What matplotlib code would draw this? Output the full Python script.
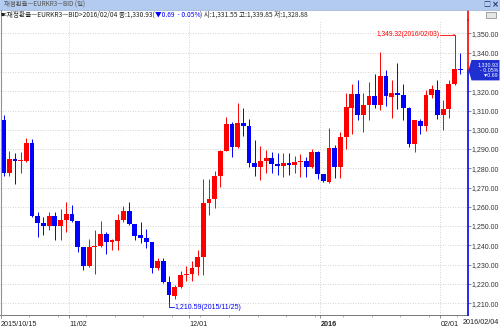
import matplotlib
matplotlib.use('Agg')
import matplotlib.pyplot as plt
from matplotlib.patches import Rectangle, Polygon
from matplotlib.lines import Line2D
import numpy as np

# ---- data ----
opens = [1305.1, 1277.7, 1284.6, 1283.9, 1283.9, 1293.3, 1255.4, 1251.6, 1250.0, 1255.4,
         1250.0, 1253.3, 1256.4, 1252.6, 1239.0, 1229.0, 1239.0, 1239.4, 1245.7, 1241.7,
         1242.2, 1253.0, 1257.8, 1250.9, 1245.1, 1243.9, 1241.7, 1228.3, 1231.7, 1220.8,
         1213.8, 1218.2, 1224.4, 1225.3, 1228.6, 1233.8, 1262.2, 1264.0, 1276.1, 1289.1,
         1303.0, 1290.9, 1303.7, 1302.2, 1282.9, 1280.4, 1283.9, 1285.3, 1282.2, 1281.3,
         1282.5, 1281.8, 1283.0, 1283.9, 1280.4, 1288.6, 1277.0, 1273.0, 1290.4, 1280.4,
         1296.4, 1311.5, 1318.8, 1307.8, 1312.7, 1317.4, 1312.7, 1327.8, 1317.0, 1319.1,
         1317.9, 1311.5, 1292.7, 1304.4, 1301.7, 1317.9, 1320.8, 1307.8, 1310.9, 1324.0,
         1331.55]
highs = [1307.7, 1289.1, 1287.7, 1288.6, 1295.6, 1295.0, 1257.3, 1254.7, 1257.3, 1257.3,
         1259.0, 1262.6, 1260.9, 1252.8, 1239.2, 1243.4, 1247.7, 1252.6, 1246.9, 1243.4,
         1256.1, 1260.4, 1262.7, 1251.1, 1252.3, 1248.3, 1241.9, 1233.5, 1233.5, 1223.9,
         1219.6, 1226.5, 1229.1, 1231.7, 1237.3, 1274.3, 1274.3, 1278.7, 1289.3, 1306.5,
         1303.9, 1313.7, 1311.1, 1305.4, 1294.7, 1291.6, 1289.5, 1288.6, 1288.1, 1288.1,
         1288.1, 1286.3, 1287.4, 1286.0, 1289.8, 1289.1, 1277.2, 1300.8, 1292.1, 1299.0,
         1319.0, 1324.0, 1325.7, 1319.1, 1324.8, 1329.2, 1340.5, 1330.9, 1325.7, 1334.7,
         1324.0, 1311.7, 1304.9, 1305.7, 1320.5, 1323.1, 1325.7, 1315.3, 1325.7, 1349.32,
         1339.85]
lows = [1275.9, 1275.9, 1271.7, 1277.3, 1283.5, 1254.8, 1244.3, 1245.1, 1247.7, 1242.9,
        1242.9, 1246.9, 1252.1, 1236.4, 1227.2, 1228.8, 1225.1, 1239.2, 1235.6, 1237.7,
        1237.8, 1252.0, 1250.5, 1243.0, 1241.3, 1238.7, 1225.7, 1227.4, 1220.4, 1210.59,
        1212.3, 1217.8, 1221.3, 1221.3, 1224.4, 1224.8, 1255.7, 1259.6, 1270.3, 1288.9,
        1285.7, 1290.5, 1297.0, 1280.6, 1276.1, 1273.8, 1277.3, 1277.3, 1276.4, 1275.6,
        1276.4, 1277.3, 1275.6, 1275.6, 1280.0, 1274.3, 1273.0, 1272.5, 1274.7, 1274.7,
        1289.8, 1297.9, 1304.9, 1298.8, 1304.9, 1311.5, 1310.1, 1312.2, 1306.3, 1310.9,
        1304.9, 1291.3, 1288.4, 1297.9, 1299.6, 1316.7, 1305.7, 1300.0, 1306.3, 1323.0,
        1328.88]
closes = [1277.7, 1284.6, 1283.9, 1284.3, 1293.3, 1255.0, 1251.6, 1250.0, 1255.4, 1250.0,
          1253.3, 1256.4, 1252.6, 1239.0, 1229.0, 1239.0, 1239.7, 1245.7, 1241.7, 1242.5,
          1253.0, 1257.8, 1250.9, 1244.8, 1243.9, 1241.7, 1228.3, 1231.7, 1220.8, 1214.3,
          1218.2, 1224.4, 1225.3, 1228.3, 1233.8, 1262.2, 1264.0, 1276.1, 1289.1, 1303.0,
          1290.9, 1303.7, 1302.2, 1282.9, 1280.4, 1283.9, 1285.3, 1282.2, 1281.3, 1282.5,
          1281.8, 1283.0, 1283.9, 1280.4, 1288.6, 1277.0, 1273.5, 1290.4, 1280.4, 1296.4,
          1311.7, 1318.8, 1307.8, 1312.7, 1317.4, 1312.7, 1327.8, 1317.4, 1319.1, 1317.9,
          1311.5, 1292.7, 1304.9, 1301.7, 1317.9, 1321.4, 1307.8, 1310.9, 1324.0, 1331.62,
          1330.93]

date_labels = ['2015/10/15', '11/02', '12/01', '2016', '02/01']
date_index = [0, 12, 33, 56, 77]
last_label = '2016/02/04'
y_ticks = list(range(1210, 1351, 10))
high_idx, high_val, high_note = 79, 1349.32, '1,349.32(2016/02/03)'
low_idx, low_val, low_note = 29, 1210.59, '1,210.59(2015/11/25)'
title = '재정환율—EURKR3—BID (일)'
info_a = '<재정환율—EURKR3—BID>2016/02/04 종:1,330.93('
info_b = '▼0.69  - 0.05%'
info_c = ') 시:1,331.55 고:1,339.85 저:1,328.88'
tag_lines = ['1,330.93', '- 0.05%', '▼0.69']

RED = '#ff0000'
BLUE = '#0000ff'
KR = ['Noto Sans CJK KR', 'DejaVu Sans']
LAT = ['Liberation Sans', 'DejaVu Sans']

W, H = 500, 327
fig = plt.figure(figsize=(5, 3.27), dpi=100)
fig.patch.set_facecolor('white')

def fx(px):
    return px / W

def fy(py):
    return 1 - py / H

ax = fig.add_axes([0, fy(315), fx(467.5), fy(20) - fy(315)])
ax.set_facecolor('white')

n = len(opens)
x = np.arange(n)
o = np.array(opens)
c = np.array(closes)
cols = [RED if cc >= oo else BLUE for oo, cc in zip(opens, closes)]
bottoms = np.minimum(o, c)
heights = np.maximum(np.abs(c - o), 0.5)
ax.vlines(x, lows, highs, colors=cols, lw=0.7, zorder=3)
ax.bar(x, heights, bottom=bottoms, width=0.84, color=cols, lw=0, zorder=4)

ax.set_xlim(-0.613, 81.26)
ax.set_ylim(1203.8, 1357.0)

last = closes[-1]

# grid
ax.set_yticks(y_ticks)
ax.yaxis.set_major_formatter(matplotlib.ticker.FuncFormatter(
    lambda v, p: '' if abs(v - last) < 5 else f'{v:,.2f}'))
ax.grid(axis='y', color='#c4c4c4', lw=0.6, linestyle=(0, (1, 2)), zorder=0)
for idx in date_index[1:]:
    ax.axvline(idx - 0.5, color='#c4c4c4', lw=0.6, linestyle=(0, (1, 2)), zorder=0)

ax.yaxis.tick_right()
ax.tick_params(axis='y', length=2, pad=1.2, labelsize=5.0, labelcolor='#333333', color='#777777', width=0.6)
for t in ax.get_yticklabels():
    t.set_fontfamily(LAT)

ax.set_xticks([i - 0.5 for i in date_index])
ax.set_xticklabels(date_labels)
ax.tick_params(axis='x', length=2, pad=2, labelsize=5.2, labelcolor='#222222', color='#777777', width=0.6)
ax.set_xticks(np.arange(4.5, n, 5), minor=True)
ax.tick_params(axis='x', which='minor', length=1.5, color='#999999', width=0.5)
for i, t in enumerate(ax.get_xticklabels()):
    t.set_ha('left')
    t.set_fontfamily(LAT)
    if date_labels[i] == '2016':
        t.set_fontweight('bold')
fig.text(fx(499.5), fy(318.5), last_label, ha='right', va='top',
         fontsize=5.2, color='#222222', family=LAT)

for s in ['top', 'left', 'right']:
    ax.spines[s].set_visible(False)
ax.spines['bottom'].set_color('#777777')
ax.spines['bottom'].set_linewidth(0.7)

# right axis line: red above the last close, blue below
ytr = ax.get_yaxis_transform()
ax.plot([1, 1], [1203.8, last], color=BLUE, lw=1.2, transform=ytr, clip_on=False, zorder=5)
ax.plot([1, 1], [last, 1357.0], color=RED, lw=1.2, transform=ytr, clip_on=False, zorder=5)
fig.add_artist(Line2D([fx(468), fx(468)], [fy(20), fy(11)], color=RED, lw=1.2))

# high / low notes
ax.text(high_idx - 2.6, high_val, high_note, ha='right', va='center', fontsize=4.8,
        color=RED, family=LAT, zorder=6)
ax.plot([high_idx - 2.5, high_idx], [high_val, high_val], color=RED, lw=0.6, zorder=6)
ax.plot([high_idx - 0.3, high_idx], [high_val - 0.2, high_val], color=RED, lw=0.6, zorder=6)

low_y = low_val - 2.8
ax.plot([low_idx, low_idx, low_idx + 0.8], [low_val, low_y, low_y], color=BLUE, lw=0.6,
        zorder=6, clip_on=False)
ax.text(low_idx + 0.9, low_y, low_note, ha='left', va='center', fontsize=5.0, color=BLUE,
        family=LAT, zorder=6)

# price tag
disp = ax.transData.transform((0, last))
ty = disp[1] / fig.bbox.height
half = 10.2 / H
tag = Polygon([[fx(468.5), ty], [fx(471.5), ty + half], [fx(499.5), ty + half],
               [fx(499.5), ty - half], [fx(471.5), ty - half]],
              closed=True, transform=fig.transFigure, facecolor='#1f2fd0', edgecolor='none')
fig.add_artist(tag)
fig.text(fx(498.5), ty, '\n'.join(tag_lines), ha='right', va='center', fontsize=3.8,
         color='white', family=LAT, linespacing=1.05, multialignment='right')

# title bar
fig.add_artist(Rectangle((0, fy(9.5)), 1, 9.5 / H, transform=fig.transFigure,
                         facecolor='#b3cbee', edgecolor='none'))
fig.add_artist(Line2D([0, 1], [fy(9.5), fy(9.5)], color='#8aa6d6', lw=0.5))
fig.text(fx(4), fy(4.8), title, ha='left', va='center', fontsize=4.6, color='#505050', family=KR)
fig.text(fx(483), fy(4.8), '□', ha='left', va='center', fontsize=5, color='#203070', family=KR)
fig.text(fx(492), fy(4.8), '×', ha='left', va='center', fontsize=6, color='#203070',
         family=['DejaVu Sans'], fontweight='bold')

# info line
fig.text(fx(0.5), fy(14.5), '■', ha='left', va='center', fontsize=3, color='#222222', family=['DejaVu Sans'])
ta = fig.text(fx(3), fy(14.5), info_a, ha='left', va='center', fontsize=4.8, color='#222222', family=KR)
fig.canvas.draw()
bb = ta.get_window_extent()
tb = fig.text(bb.x1 / fig.bbox.width, fy(14.5), info_b, ha='left', va='center', fontsize=4.8,
              color=BLUE, family=KR)
fig.canvas.draw()
bb2 = tb.get_window_extent()
fig.text(bb2.x1 / fig.bbox.width, fy(14.5), info_c, ha='left', va='center', fontsize=4.8,
         color='#222222', family=KR)

# small icon at top right
fig.add_artist(Rectangle((fx(486), fy(17.5)), fx(10), 6 / H, transform=fig.transFigure,
                         facecolor='#e6e6e6', edgecolor='#808080', lw=0.5))

# left border
fig.add_artist(Line2D([fx(0.5), fx(0.5)], [fy(10), fy(315)], color='#909090', lw=0.8))

fig.savefig('out.png', dpi=100, facecolor='white')
